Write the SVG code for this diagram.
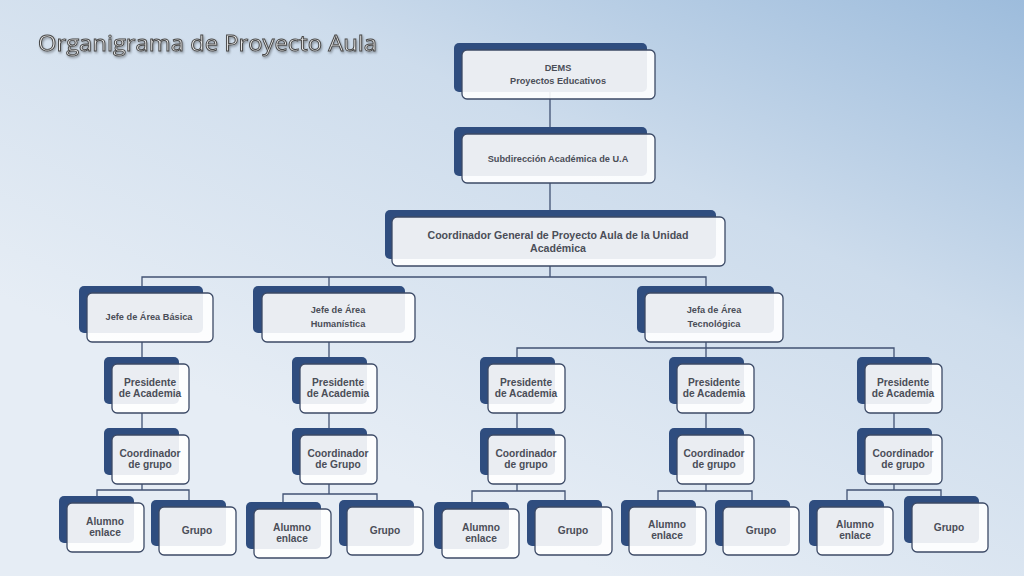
<svg xmlns="http://www.w3.org/2000/svg" width="1024" height="576" viewBox="0 0 1024 576">
<defs>
<linearGradient id="bg" x1="1" y1="0" x2="0.35" y2="0.8">
<stop offset="0" stop-color="#9dbcdc"/>
<stop offset="0.45" stop-color="#cddcec"/>
<stop offset="1" stop-color="#e6edf5"/>
</linearGradient>
<filter id="sh" x="-10%" y="-30%" width="120%" height="160%">
<feDropShadow dx="1" dy="1.5" stdDeviation="0.8" flood-color="#000" flood-opacity="0.35"/>
</filter>
</defs>
<style>
.bk{fill:#2f4d7f;}
.fr{fill:#ffffff;fill-opacity:0.9;stroke:#3c4a66;stroke-width:1.3;}
.t{font-family:"Liberation Sans",Arial,sans-serif;font-weight:bold;fill:#4a4e58;text-anchor:middle;dominant-baseline:central;}
.s9{font-size:9.2px;}
.s10{font-size:10.2px;}
.s95{font-size:10.6px;}
.c{fill:none;stroke:#415273;stroke-width:1.3;}
.title{font-family:"Open Sans","Liberation Sans",Arial,sans-serif;font-size:22px;fill:#ececec;stroke:#474747;stroke-width:0.9;}
</style>
<rect width="1024" height="576" fill="url(#bg)"/>
<text class="title" x="38" y="51" textLength="339" lengthAdjust="spacingAndGlyphs" filter="url(#sh)">Organigrama de Proyecto Aula</text>

<g id="connectors">
<path class="c" d="M550,90 V127 M550,183 V210 M550,266 V277 M142,286 V277 H706 V286 M329,277 V286"/>
<path class="c" d="M142,342 V357 M142,413 V428 M142,484 V490 M97,496 V490 H189 V500"/>
<path class="c" d="M329,342 V357 M329,413 V428 M329,484 V494 M283,502 V494 H377 V500"/>
<path class="c" d="M706,342 V357 M517,357 V348 H894 V357"/>
<path class="c" d="M517,413 V428 M517,484 V491 M472,502 V491 H565 V500"/>
<path class="c" d="M706,413 V428 M706,484 V491 M658,500 V491 H752 V500"/>
<path class="c" d="M894,413 V428 M894,484 V490 M847,500 V490 H941 V496"/>
</g>

<g id="n-dems"><rect class="bk" x="454" y="43" width="193" height="49" rx="5"/><rect class="fr" x="462" y="50" width="193" height="49" rx="5"/>
<text class="t s9" x="558" y="68">DEMS</text><text class="t s9" x="558" y="81">Proyectos Educativos</text></g>

<g id="n-subdir"><rect class="bk" x="454" y="127" width="193" height="49" rx="5"/><rect class="fr" x="462" y="134" width="193" height="49" rx="5"/>
<text class="t s9" x="558" y="159">Subdirección Académica de U.A</text></g>

<g id="n-coordgen"><rect class="bk" x="385" y="210" width="331" height="49" rx="5"/><rect class="fr" x="392" y="217" width="333" height="49" rx="5"/>
<text class="t s95" x="558" y="235">Coordinador General  de Proyecto Aula de la Unidad</text><text class="t s95" x="558" y="247.5">Académica</text></g>

<g id="n-jefe-basica"><rect class="bk" x="79" y="286" width="124" height="47" rx="5"/><rect class="fr" x="87" y="293" width="126" height="49" rx="5"/>
<text class="t s9" x="149" y="317">Jefe de Área Básica</text></g>

<g id="n-jefe-hum"><rect class="bk" x="253" y="286" width="152" height="47" rx="5"/><rect class="fr" x="262" y="293" width="153" height="49" rx="5"/>
<text class="t s9" x="338" y="310">Jefe de Área</text><text class="t s9" x="338" y="324">Humanística</text></g>

<g id="n-jefa-tec"><rect class="bk" x="637" y="286" width="137" height="47" rx="5"/><rect class="fr" x="645" y="293" width="138" height="49" rx="5"/>
<text class="t s9" x="714" y="310">Jefa de Área</text><text class="t s9" x="714" y="324">Tecnológica</text></g>

<g id="n-pres1"><rect class="bk" x="104" y="357" width="75" height="47" rx="5"/><rect class="fr" x="112" y="364" width="77" height="49" rx="5"/>
<text class="t s10" x="150" y="382">Presidente</text><text class="t s10" x="150" y="393">de Academia</text></g>
<g id="n-pres2"><rect class="bk" x="292" y="357" width="75" height="47" rx="5"/><rect class="fr" x="300" y="364" width="77" height="49" rx="5"/>
<text class="t s10" x="338" y="382">Presidente</text><text class="t s10" x="338" y="393">de Academia</text></g>
<g id="n-pres3"><rect class="bk" x="480" y="357" width="75" height="47" rx="5"/><rect class="fr" x="488" y="364" width="77" height="49" rx="5"/>
<text class="t s10" x="526" y="382">Presidente</text><text class="t s10" x="526" y="393">de Academia</text></g>
<g id="n-pres4"><rect class="bk" x="669" y="357" width="75" height="47" rx="5"/><rect class="fr" x="677" y="364" width="77" height="49" rx="5"/>
<text class="t s10" x="714" y="382">Presidente</text><text class="t s10" x="714" y="393">de Academia</text></g>
<g id="n-pres5"><rect class="bk" x="857" y="357" width="75" height="47" rx="5"/><rect class="fr" x="865" y="364" width="77" height="49" rx="5"/>
<text class="t s10" x="903" y="382">Presidente</text><text class="t s10" x="903" y="393">de Academia</text></g>

<g id="n-coord1"><rect class="bk" x="104" y="428" width="75" height="47" rx="5"/><rect class="fr" x="112" y="435" width="77" height="49" rx="5"/>
<text class="t s10" x="150" y="453.5">Coordinador</text><text class="t s10" x="150" y="464.5">de grupo</text></g>
<g id="n-coord2"><rect class="bk" x="292" y="428" width="75" height="47" rx="5"/><rect class="fr" x="300" y="435" width="77" height="49" rx="5"/>
<text class="t s10" x="338" y="453.5">Coordinador</text><text class="t s10" x="338" y="464.5">de Grupo</text></g>
<g id="n-coord3"><rect class="bk" x="480" y="428" width="75" height="47" rx="5"/><rect class="fr" x="488" y="435" width="77" height="49" rx="5"/>
<text class="t s10" x="526" y="453.5">Coordinador</text><text class="t s10" x="526" y="464.5">de grupo</text></g>
<g id="n-coord4"><rect class="bk" x="669" y="428" width="75" height="47" rx="5"/><rect class="fr" x="677" y="435" width="77" height="49" rx="5"/>
<text class="t s10" x="714" y="453.5">Coordinador</text><text class="t s10" x="714" y="464.5">de grupo</text></g>
<g id="n-coord5"><rect class="bk" x="857" y="428" width="75" height="47" rx="5"/><rect class="fr" x="865" y="435" width="77" height="49" rx="5"/>
<text class="t s10" x="903" y="453.5">Coordinador</text><text class="t s10" x="903" y="464.5">de grupo</text></g>

<g id="n-alumno1"><rect class="bk" x="59" y="496" width="75" height="47" rx="5"/><rect class="fr" x="67" y="503" width="77" height="49" rx="5"/>
<text class="t s10" x="105" y="521.5">Alumno</text><text class="t s10" x="105" y="532.5">enlace</text></g>
<g id="n-grupo1"><rect class="bk" x="151" y="500" width="75" height="46" rx="5"/><rect class="fr" x="159" y="507" width="77" height="48" rx="5"/>
<text class="t s10" x="197" y="530">Grupo</text></g>
<g id="n-alumno2"><rect class="bk" x="246" y="502" width="75" height="47" rx="5"/><rect class="fr" x="254" y="509" width="77" height="49" rx="5"/>
<text class="t s10" x="292" y="527.5">Alumno</text><text class="t s10" x="292" y="538.5">enlace</text></g>
<g id="n-grupo2"><rect class="bk" x="339" y="500" width="75" height="46" rx="5"/><rect class="fr" x="347" y="507" width="76" height="48" rx="5"/>
<text class="t s10" x="385" y="530">Grupo</text></g>
<g id="n-alumno3"><rect class="bk" x="434" y="502" width="75" height="47" rx="5"/><rect class="fr" x="442" y="509" width="77" height="49" rx="5"/>
<text class="t s10" x="481" y="527.5">Alumno</text><text class="t s10" x="481" y="538.5">enlace</text></g>
<g id="n-grupo3"><rect class="bk" x="527" y="500" width="75" height="46" rx="5"/><rect class="fr" x="535" y="507" width="77" height="48" rx="5"/>
<text class="t s10" x="573" y="530">Grupo</text></g>
<g id="n-alumno4"><rect class="bk" x="621" y="500" width="75" height="46" rx="5"/><rect class="fr" x="629" y="507" width="77" height="48" rx="5"/>
<text class="t s10" x="667" y="524.5">Alumno</text><text class="t s10" x="667" y="535.5">enlace</text></g>
<g id="n-grupo4"><rect class="bk" x="715" y="500" width="75" height="46" rx="5"/><rect class="fr" x="723" y="507" width="76" height="48" rx="5"/>
<text class="t s10" x="761" y="530">Grupo</text></g>
<g id="n-alumno5"><rect class="bk" x="809" y="500" width="75" height="46" rx="5"/><rect class="fr" x="817" y="507" width="76" height="48" rx="5"/>
<text class="t s10" x="855" y="524.5">Alumno</text><text class="t s10" x="855" y="535.5">enlace</text></g>
<g id="n-grupo5"><rect class="bk" x="904" y="496" width="75" height="47" rx="5"/><rect class="fr" x="912" y="503" width="76" height="49" rx="5"/>
<text class="t s10" x="949" y="527">Grupo</text></g>
</svg>
